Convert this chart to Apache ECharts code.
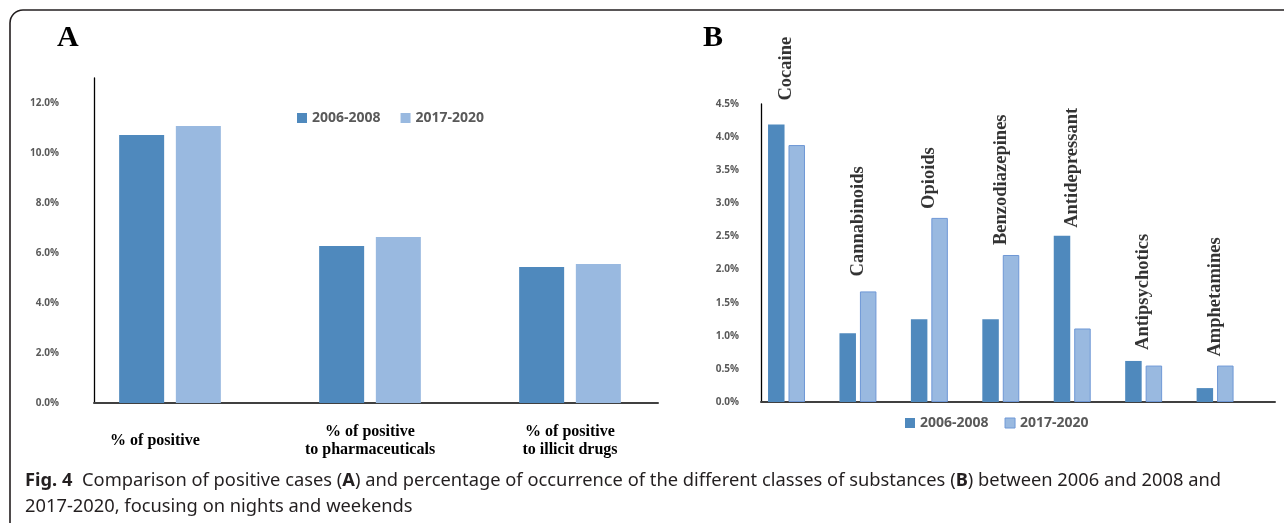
<!DOCTYPE html>
<html>
<head>
<meta charset="utf-8">
<script src="https://cdn.jsdelivr.net/npm/echarts@6/dist/echarts.min.js"></script>
<style>
html,body{margin:0;padding:0;background:#fff;}
#c{width:1284px;height:523px;}
</style>
</head>
<body>
<div id="c"></div>
<script>
// ---- data ----
const seriesNames = ['2006-2008', '2017-2020'];
const catsA = ['% of positive', '% of positive\nto pharmaceuticals', '% of positive\nto illicit drugs'];
const a0608 = [10.72, 6.28, 5.44];
const a1720 = [11.08, 6.64, 5.56];
const catsB = ['Cocaine', 'Cannabinoids', 'Opioids', 'Benzodiazepines', 'Antidepressant', 'Antipsychotics', 'Amphetamines'];
const b0608 = [4.19, 1.04, 1.25, 1.25, 2.51, 0.62, 0.21];
const b1720 = [3.88, 1.67, 2.78, 2.22, 1.11, 0.55, 0.55];
const captionLine1 = 'Comparison of positive cases (A) and percentage of occurrence of the different classes of substances (B) between 2006 and 2008 and';
const captionLine2 = '2017-2020, focusing on nights and weekends';

// ---- styles ----
const DARK = '#4F89BD';
const LIGHT = '#99B9E0';
const LIGHT_BORDER = '#6F98D6';
const GRAY = '#595959';
const tickFont = {fontFamily: '"Open Sans"', fontWeight: 'bold', fontSize: 10, color: GRAY};
const legendText = {fontFamily: '"Open Sans"', fontWeight: 'bold', fontSize: 14, color: GRAY};
const catFont = {fontFamily: '"Liberation Serif"', fontWeight: 'bold', fontSize: 16, color: '#000', lineHeight: 18};
const labelGapsB = [24, 15, 9, 10, 8, 11, 9];

// caption horizontal compression to match the condensed original face
const mctx = document.createElement('canvas').getContext('2d');
mctx.font = '18px "Noto Sans"';
const capW = mctx.measureText('Fig. 4  ' + captionLine1).width;
const capScale = 1193 / capW;

const chart = echarts.init(document.getElementById('c'), null, {renderer: 'canvas'});
const pctFmt = v => v.toFixed(1) + '%';

const option = {
  animation: false,
  title: [
    {text: 'A', left: 52, top: 18, textStyle: {fontFamily: '"Liberation Serif"', fontWeight: 'bold', fontSize: 30, color: '#000'}},
    {text: 'B', left: 698, top: 18, textStyle: {fontFamily: '"Liberation Serif"', fontWeight: 'bold', fontSize: 30, color: '#000'}}
  ],
  legend: [
    {left: 292, top: 106, itemWidth: 10, itemHeight: 10, itemGap: 20, icon: 'rect', textStyle: legendText,
     data: [{name: seriesNames[0], itemStyle: {color: DARK}}, {name: seriesNames[1], itemStyle: {color: LIGHT}}]},
    {left: 900, top: 411, itemWidth: 10, itemHeight: 10, itemGap: 16, icon: 'rect', textStyle: legendText,
     data: [{name: seriesNames[0], itemStyle: {color: DARK}}, {name: seriesNames[1], itemStyle: {color: LIGHT, borderColor: LIGHT_BORDER, borderWidth: 1}}]}
  ],
  grid: [
    {left: 70, right: 614, top: 78, bottom: 120},
    {left: 94, right: 626, top: 78, bottom: 120},
    {left: 750.8, right: 33.2, top: 104, bottom: 121},
    {left: 761, right: 9, top: 104, bottom: 121}
  ],
  xAxis: [
    {gridIndex: 0, type: 'category', data: catsA, axisLine: {show: false}, axisTick: {show: false},
     axisLabel: Object.assign({interval: 0, margin: 38, verticalAlign: 'middle',
       formatter: (v, i) => (i === 0 ? '{s|' + v + '}' : v),
       rich: {s: Object.assign({padding: [0, 30, 0, 0]}, catFont)}}, catFont)},
    {gridIndex: 1, type: 'value', min: 0, max: 1, axisLine: {show: true, lineStyle: {color: '#404040', width: 2}},
     axisTick: {show: false}, axisLabel: {show: false}, splitLine: {show: false}},
    {gridIndex: 2, type: 'category', data: catsB, axisLine: {show: false}, axisTick: {show: false}, axisLabel: {show: false}},
    {gridIndex: 3, type: 'value', min: 0, max: 1, axisLine: {show: true, lineStyle: {color: '#404040', width: 2}},
     axisTick: {show: false}, axisLabel: {show: false}, splitLine: {show: false}}
  ],
  yAxis: [
    {gridIndex: 0, type: 'value', min: 0, max: 13, show: false},
    {gridIndex: 1, type: 'value', min: 0, max: 13, interval: 2,
     axisLine: {show: true, lineStyle: {color: '#000', width: 1.3}}, axisTick: {show: false}, splitLine: {show: false},
     axisLabel: Object.assign({margin: 35, showMaxLabel: false, formatter: v => (v % 2 === 0 ? pctFmt(v) : '')}, tickFont)},
    {gridIndex: 2, type: 'value', min: 0, max: 4.5, show: false},
    {gridIndex: 3, type: 'value', min: 0, max: 4.5, interval: 0.5,
     axisLine: {show: true, lineStyle: {color: '#000', width: 1.3}}, axisTick: {show: false}, splitLine: {show: false},
     axisLabel: Object.assign({margin: 22, formatter: pctFmt}, tickFont)}
  ],
  series: [
    {name: seriesNames[0], type: 'bar', xAxisIndex: 0, yAxisIndex: 0, data: a0608, barWidth: 45, barGap: '26%',
     itemStyle: {color: DARK}},
    {name: seriesNames[1], type: 'bar', xAxisIndex: 0, yAxisIndex: 0, data: a1720, barWidth: 45, barGap: '26%',
     itemStyle: {color: LIGHT}},
    {name: seriesNames[0], type: 'bar', xAxisIndex: 2, yAxisIndex: 2, data: b0608, barWidth: 16.5, barGap: '24%',
     itemStyle: {color: DARK}},
    {name: seriesNames[1], type: 'bar', xAxisIndex: 2, yAxisIndex: 2, data: b1720, barWidth: 16.5, barGap: '24%',
     itemStyle: {color: LIGHT, borderColor: LIGHT_BORDER, borderWidth: 1}},
    {name: 'labels', type: 'scatter', xAxisIndex: 2, yAxisIndex: 2, symbolSize: 0, silent: true,
     data: catsB.map((c, i) => ({value: Math.max(b0608[i], b1720[i]), label: {distance: labelGapsB[i]}})),
     label: {show: true, position: 'top', rotate: 90, align: 'left', verticalAlign: 'middle',
       formatter: p => catsB[p.dataIndex], fontFamily: '"Liberation Serif"', fontWeight: 'bold', fontSize: 18.5, color: '#000'}}
  ],
  graphic: [
    {type: 'rect', shape: {x: 10, y: 10, width: 1320, height: 620, r: 13}, silent: true,
     style: {fill: 'none', stroke: '#231F20', lineWidth: 1.6}},
    {type: 'text', x: 25, y: 468, scaleX: capScale, silent: true,
     style: {text: '{b|Fig. 4}  ' + captionLine1.replace('(A)', '({b|A})').replace('(B)', '({b|B})') + '\n' + captionLine2,
       font: '18px "Noto Sans"', fill: '#231F20', lineHeight: 26, verticalAlign: 'top',
       rich: {b: {fontWeight: 'bold', fontFamily: '"Noto Sans"', fontSize: 18, fill: '#231F20'}}}}
  ]
};
chart.setOption(option);
</script>
</body>
</html>
